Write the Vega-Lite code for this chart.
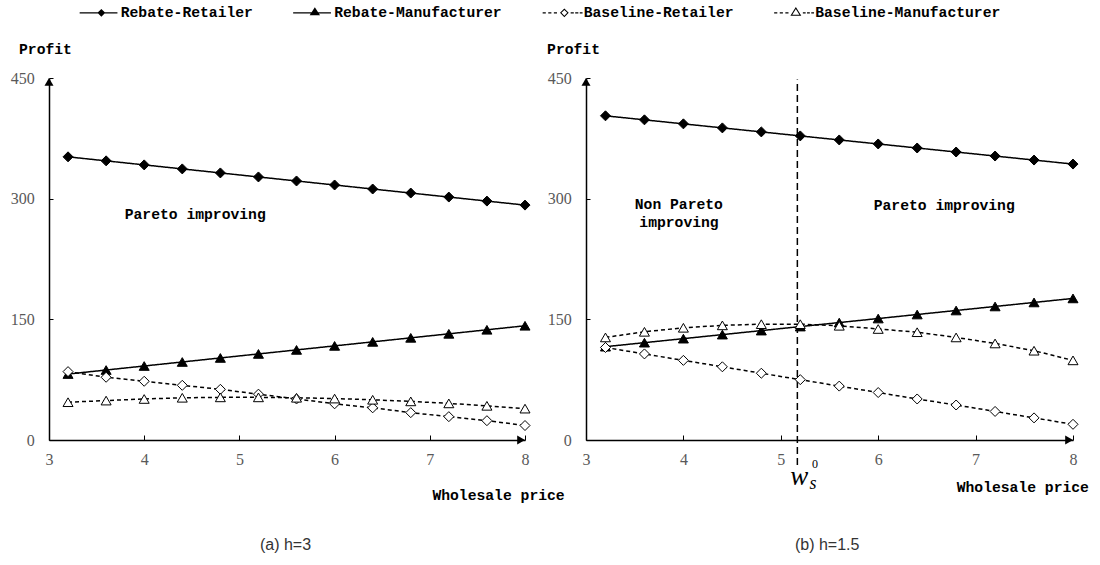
{
  "$schema": "https://vega.github.io/schema/vega-lite/v6.json",
  "background": "white",
  "padding": {"left": 10, "top": 5, "right": 5, "bottom": 5},
  "bounds": "flush",
  "spacing": 61,
  "config": {
    "view": {"stroke": null},
    "axis": {
      "grid": false,
      "domain": true,
      "domainColor": "black",
      "domainWidth": 1.5,
      "ticks": true,
      "tickColor": "black",
      "tickWidth": 1,
      "labelFont": "Liberation Serif",
      "labelFontSize": 16,
      "labelColor": "#595959",
      "labelOverlap": false
    }
  },
  "resolve": {
    "scale": {"x": "independent", "y": "independent", "shape": "independent", "fill": "independent", "strokeDash": "independent", "strokeWidth": "independent"},
    "legend": {"shape": "independent", "fill": "independent"}
  },
  "datasets": {
    "h3": [
      {"w": 3.2, "series": "Rebate-Retailer", "profit": 352},
      {"w": 3.6, "series": "Rebate-Retailer", "profit": 347},
      {"w": 4.0, "series": "Rebate-Retailer", "profit": 342},
      {"w": 4.4, "series": "Rebate-Retailer", "profit": 337},
      {"w": 4.8, "series": "Rebate-Retailer", "profit": 332},
      {"w": 5.2, "series": "Rebate-Retailer", "profit": 327},
      {"w": 5.6, "series": "Rebate-Retailer", "profit": 322},
      {"w": 6.0, "series": "Rebate-Retailer", "profit": 317},
      {"w": 6.4, "series": "Rebate-Retailer", "profit": 312},
      {"w": 6.8, "series": "Rebate-Retailer", "profit": 307},
      {"w": 7.2, "series": "Rebate-Retailer", "profit": 302},
      {"w": 7.6, "series": "Rebate-Retailer", "profit": 297},
      {"w": 8.0, "series": "Rebate-Retailer", "profit": 292},
      {"w": 3.2, "series": "Rebate-Manufacturer", "profit": 82},
      {"w": 3.6, "series": "Rebate-Manufacturer", "profit": 87},
      {"w": 4.0, "series": "Rebate-Manufacturer", "profit": 92},
      {"w": 4.4, "series": "Rebate-Manufacturer", "profit": 97},
      {"w": 4.8, "series": "Rebate-Manufacturer", "profit": 102},
      {"w": 5.2, "series": "Rebate-Manufacturer", "profit": 107},
      {"w": 5.6, "series": "Rebate-Manufacturer", "profit": 112},
      {"w": 6.0, "series": "Rebate-Manufacturer", "profit": 117},
      {"w": 6.4, "series": "Rebate-Manufacturer", "profit": 122},
      {"w": 6.8, "series": "Rebate-Manufacturer", "profit": 127},
      {"w": 7.2, "series": "Rebate-Manufacturer", "profit": 132},
      {"w": 7.6, "series": "Rebate-Manufacturer", "profit": 137},
      {"w": 8.0, "series": "Rebate-Manufacturer", "profit": 142},
      {"w": 3.2, "series": "Baseline-Retailer", "profit": 85},
      {"w": 3.6, "series": "Baseline-Retailer", "profit": 78},
      {"w": 4.0, "series": "Baseline-Retailer", "profit": 73},
      {"w": 4.4, "series": "Baseline-Retailer", "profit": 68},
      {"w": 4.8, "series": "Baseline-Retailer", "profit": 63},
      {"w": 5.2, "series": "Baseline-Retailer", "profit": 57},
      {"w": 5.6, "series": "Baseline-Retailer", "profit": 51},
      {"w": 6.0, "series": "Baseline-Retailer", "profit": 45},
      {"w": 6.4, "series": "Baseline-Retailer", "profit": 40},
      {"w": 6.8, "series": "Baseline-Retailer", "profit": 34},
      {"w": 7.2, "series": "Baseline-Retailer", "profit": 29},
      {"w": 7.6, "series": "Baseline-Retailer", "profit": 24},
      {"w": 8.0, "series": "Baseline-Retailer", "profit": 18},
      {"w": 3.2, "series": "Baseline-Manufacturer", "profit": 47},
      {"w": 3.6, "series": "Baseline-Manufacturer", "profit": 49},
      {"w": 4.0, "series": "Baseline-Manufacturer", "profit": 51},
      {"w": 4.4, "series": "Baseline-Manufacturer", "profit": 52.5},
      {"w": 4.8, "series": "Baseline-Manufacturer", "profit": 53},
      {"w": 5.2, "series": "Baseline-Manufacturer", "profit": 53},
      {"w": 5.6, "series": "Baseline-Manufacturer", "profit": 52.5},
      {"w": 6.0, "series": "Baseline-Manufacturer", "profit": 51.5},
      {"w": 6.4, "series": "Baseline-Manufacturer", "profit": 50},
      {"w": 6.8, "series": "Baseline-Manufacturer", "profit": 48},
      {"w": 7.2, "series": "Baseline-Manufacturer", "profit": 45.5},
      {"w": 7.6, "series": "Baseline-Manufacturer", "profit": 42.5},
      {"w": 8.0, "series": "Baseline-Manufacturer", "profit": 39}
    ],
    "h15": [
      {"w": 3.2, "series": "Rebate-Retailer", "profit": 403},
      {"w": 3.6, "series": "Rebate-Retailer", "profit": 398},
      {"w": 4.0, "series": "Rebate-Retailer", "profit": 393},
      {"w": 4.4, "series": "Rebate-Retailer", "profit": 388},
      {"w": 4.8, "series": "Rebate-Retailer", "profit": 383},
      {"w": 5.2, "series": "Rebate-Retailer", "profit": 378},
      {"w": 5.6, "series": "Rebate-Retailer", "profit": 373},
      {"w": 6.0, "series": "Rebate-Retailer", "profit": 368},
      {"w": 6.4, "series": "Rebate-Retailer", "profit": 363},
      {"w": 6.8, "series": "Rebate-Retailer", "profit": 358},
      {"w": 7.2, "series": "Rebate-Retailer", "profit": 353},
      {"w": 7.6, "series": "Rebate-Retailer", "profit": 348},
      {"w": 8.0, "series": "Rebate-Retailer", "profit": 343},
      {"w": 3.2, "series": "Rebate-Manufacturer", "profit": 116},
      {"w": 3.6, "series": "Rebate-Manufacturer", "profit": 121},
      {"w": 4.0, "series": "Rebate-Manufacturer", "profit": 126},
      {"w": 4.4, "series": "Rebate-Manufacturer", "profit": 131},
      {"w": 4.8, "series": "Rebate-Manufacturer", "profit": 136},
      {"w": 5.2, "series": "Rebate-Manufacturer", "profit": 141},
      {"w": 5.6, "series": "Rebate-Manufacturer", "profit": 146},
      {"w": 6.0, "series": "Rebate-Manufacturer", "profit": 151},
      {"w": 6.4, "series": "Rebate-Manufacturer", "profit": 156},
      {"w": 6.8, "series": "Rebate-Manufacturer", "profit": 161},
      {"w": 7.2, "series": "Rebate-Manufacturer", "profit": 166},
      {"w": 7.6, "series": "Rebate-Manufacturer", "profit": 171},
      {"w": 8.0, "series": "Rebate-Manufacturer", "profit": 176},
      {"w": 3.2, "series": "Baseline-Retailer", "profit": 115},
      {"w": 3.6, "series": "Baseline-Retailer", "profit": 107},
      {"w": 4.0, "series": "Baseline-Retailer", "profit": 99},
      {"w": 4.4, "series": "Baseline-Retailer", "profit": 91},
      {"w": 4.8, "series": "Baseline-Retailer", "profit": 83},
      {"w": 5.2, "series": "Baseline-Retailer", "profit": 75},
      {"w": 5.6, "series": "Baseline-Retailer", "profit": 67},
      {"w": 6.0, "series": "Baseline-Retailer", "profit": 59},
      {"w": 6.4, "series": "Baseline-Retailer", "profit": 51},
      {"w": 6.8, "series": "Baseline-Retailer", "profit": 43.5},
      {"w": 7.2, "series": "Baseline-Retailer", "profit": 35.5},
      {"w": 7.6, "series": "Baseline-Retailer", "profit": 27.5},
      {"w": 8.0, "series": "Baseline-Retailer", "profit": 19.5},
      {"w": 3.2, "series": "Baseline-Manufacturer", "profit": 127.5},
      {"w": 3.6, "series": "Baseline-Manufacturer", "profit": 134.5},
      {"w": 4.0, "series": "Baseline-Manufacturer", "profit": 139.5},
      {"w": 4.4, "series": "Baseline-Manufacturer", "profit": 142.5},
      {"w": 4.8, "series": "Baseline-Manufacturer", "profit": 144},
      {"w": 5.2, "series": "Baseline-Manufacturer", "profit": 144},
      {"w": 5.6, "series": "Baseline-Manufacturer", "profit": 142},
      {"w": 6.0, "series": "Baseline-Manufacturer", "profit": 138},
      {"w": 6.4, "series": "Baseline-Manufacturer", "profit": 134},
      {"w": 6.8, "series": "Baseline-Manufacturer", "profit": 127.5},
      {"w": 7.2, "series": "Baseline-Manufacturer", "profit": 120},
      {"w": 7.6, "series": "Baseline-Manufacturer", "profit": 111},
      {"w": 8.0, "series": "Baseline-Manufacturer", "profit": 99}
    ]
  },
  "hconcat": [
    {
      "width": 476,
      "height": 362,
      "layer": [
        {
          "data": {"name": "h3"},
          "mark": {"type": "line", "color": "black"},
          "encoding": {
            "x": {"field": "w", "type": "quantitative", "scale": {"domain": [3, 8], "nice": false, "zero": false},
                  "axis": {"values": [3, 4, 5, 6, 7, 8], "format": "d", "tickSize": -5, "labelPadding": 16, "labelFlush": false, "labelBaseline": "top", "title": null}},
            "y": {"field": "profit", "type": "quantitative", "scale": {"domain": [0, 450], "nice": false},
                  "axis": {"values": [0, 150, 300, 450], "format": "d", "tickSize": -4, "labelPadding": 18.7, "title": null}},
            "strokeDash": {"field": "series", "type": "nominal", "legend": null,
              "scale": {"domain": ["Rebate-Retailer", "Rebate-Manufacturer", "Baseline-Retailer", "Baseline-Manufacturer"], "range": [[1, 0], [1, 0], [4, 3], [4, 3]]}},
            "strokeWidth": {"field": "series", "type": "nominal", "legend": null,
              "scale": {"domain": ["Rebate-Retailer", "Rebate-Manufacturer", "Baseline-Retailer", "Baseline-Manufacturer"], "range": [1.5, 1.5, 1.2, 1.2]}}
          }
        },
        {
          "data": {"name": "h3"},
          "mark": {"type": "point", "filled": true, "stroke": "black", "strokeWidth": 1, "size": 100, "opacity": 1},
          "encoding": {
            "x": {"field": "w", "type": "quantitative"},
            "y": {"field": "profit", "type": "quantitative"},
            "shape": {"field": "series", "type": "nominal", "legend": null,
              "scale": {"domain": ["Rebate-Retailer", "Rebate-Manufacturer", "Baseline-Retailer", "Baseline-Manufacturer"], "range": ["diamond", "triangle-up", "diamond", "triangle-up"]}},
            "fill": {"field": "series", "type": "nominal", "legend": null,
              "scale": {"domain": ["Rebate-Retailer", "Rebate-Manufacturer", "Baseline-Retailer", "Baseline-Manufacturer"], "range": ["black", "black", "white", "white"]}}
          }
        },
        {
          "data": {"name": "h3"},
          "transform": [{"filter": "false"}],
          "mark": {"type": "point", "filled": true, "color": "black", "size": 196, "opacity": 1},
          "encoding": {
            "shape": {"field": "series", "type": "nominal",
              "scale": {"domain": ["Rebate-Retailer", "Rebate-Manufacturer", "Baseline-Retailer", "Baseline-Manufacturer"],
                "range": [
                  "M-3.1,-0.1H2.3V0.1H-3.1Z M0,-0.56L0.56,0L0,0.56L-0.56,0Z",
                  "M-3.1,-0.1H2.3V0.1H-3.1Z M0,-0.8L0.74,0.36L-0.74,0.36Z",
                  "M-3.1,-0.08H-2.65V0.08H-3.1Z M-2.3,-0.08H-1.85V0.08H-2.3Z M-1.5,-0.08H-1.05V0.08H-1.5Z M0.9,-0.08H1.35V0.08H0.9Z M1.55,-0.08H2.0V0.08H1.55Z M2.2,-0.08H2.6V0.08H2.2Z M0,-0.62L0.62,0L0,0.62L-0.62,0Z M0,-0.41L-0.41,0L0,0.41L0.41,0Z",
                  "M-3.1,-0.08H-2.65V0.08H-3.1Z M-2.3,-0.08H-1.85V0.08H-2.3Z M-1.5,-0.08H-1.05V0.08H-1.5Z M1.0,-0.08H1.4V0.08H1.0Z M1.6,-0.08H2.0V0.08H1.6Z M2.2,-0.08H2.6V0.08H2.2Z M0,-0.84L0.78,0.42L-0.78,0.42Z M0,-0.555L-0.51,0.27L0.51,0.27Z"
                ]},
              "legend": {"title": null, "orient": "none", "legendX": 45, "legendY": -73, "direction": "horizontal", "padding": 0,
                "columnPadding": 39.5, "labelOffset": 12, "symbolSize": 196, "symbolFillColor": "black", "symbolStrokeWidth": 0,
                "labelFont": "Liberation Mono", "labelFontWeight": "bold", "labelFontSize": 14.7, "labelColor": "black", "labelLimit": 0}}
          }
        },
        {
          "data": {"values": [{}]},
          "mark": {"type": "point", "shape": "triangle-up", "filled": true, "color": "black", "size": 81, "opacity": 1},
          "encoding": {"x": {"datum": 3, "type": "quantitative"}, "y": {"datum": 445.2, "type": "quantitative"}}
        },
        {
          "data": {"values": [{}]},
          "mark": {"type": "point", "shape": "triangle-right", "filled": true, "color": "black", "size": 81, "opacity": 1},
          "encoding": {"x": {"datum": 7.959, "type": "quantitative"}, "y": {"datum": 0, "type": "quantitative"}}
        },
        {
          "data": {"values": [{}]},
          "mark": {"type": "text", "text": "Profit", "font": "Liberation Mono", "fontWeight": "bold", "fontSize": 14.7, "color": "black", "align": "center", "baseline": "middle"},
          "encoding": {"x": {"datum": 2.963, "type": "quantitative"}, "y": {"datum": 485.2, "type": "quantitative"}}
        },
        {
          "data": {"values": [{}]},
          "mark": {"type": "text", "text": "Wholesale price", "font": "Liberation Mono", "fontWeight": "bold", "fontSize": 14.7, "color": "black", "align": "center", "baseline": "middle"},
          "encoding": {"x": {"datum": 7.722, "type": "quantitative"}, "y": {"datum": -69.6, "type": "quantitative"}}
        },
        {
          "data": {"values": [{}]},
          "mark": {"type": "text", "text": "Pareto improving", "font": "Liberation Mono", "fontWeight": "bold", "fontSize": 14.7, "color": "black", "align": "center", "baseline": "middle"},
          "encoding": {"x": {"datum": 4.536, "type": "quantitative"}, "y": {"datum": 280.1, "type": "quantitative"}}
        },
        {
          "data": {"values": [{}]},
          "mark": {"type": "text", "text": "(a) h=3", "font": "Liberation Sans", "fontSize": 16, "color": "#333333", "align": "center", "baseline": "middle"},
          "encoding": {"x": {"datum": 5.484, "type": "quantitative"}, "y": {"datum": -130.2, "type": "quantitative"}}
        }
      ],
      "resolve": {"scale": {"shape": "independent", "fill": "independent"}, "legend": {"shape": "independent", "fill": "independent"}}
    },
    {
      "width": 487,
      "height": 362,
      "layer": [
        {
          "data": {"values": [{}]},
          "mark": {"type": "rule", "color": "black", "strokeWidth": 1.5, "strokeDash": [7, 4]},
          "encoding": {"x": {"datum": 5.17, "type": "quantitative"}, "y": {"datum": -31, "type": "quantitative"}, "y2": {"datum": 448}}
        },
        {
          "data": {"name": "h15"},
          "mark": {"type": "line", "color": "black"},
          "encoding": {
            "x": {"field": "w", "type": "quantitative", "scale": {"domain": [3, 8], "nice": false, "zero": false},
                  "axis": {"values": [3, 4, 5, 6, 7, 8], "format": "d", "tickSize": -5, "labelPadding": 16, "labelFlush": false, "labelBaseline": "top", "title": null}},
            "y": {"field": "profit", "type": "quantitative", "scale": {"domain": [0, 450], "nice": false},
                  "axis": {"values": [0, 150, 300, 450], "format": "d", "tickSize": -4, "labelPadding": 18.7, "title": null}},
            "strokeDash": {"field": "series", "type": "nominal", "legend": null,
              "scale": {"domain": ["Rebate-Retailer", "Rebate-Manufacturer", "Baseline-Retailer", "Baseline-Manufacturer"], "range": [[1, 0], [1, 0], [4, 3], [4, 3]]}},
            "strokeWidth": {"field": "series", "type": "nominal", "legend": null,
              "scale": {"domain": ["Rebate-Retailer", "Rebate-Manufacturer", "Baseline-Retailer", "Baseline-Manufacturer"], "range": [1.5, 1.5, 1.2, 1.2]}}
          }
        },
        {
          "data": {"name": "h15"},
          "mark": {"type": "point", "filled": true, "stroke": "black", "strokeWidth": 1, "size": 100, "opacity": 1},
          "encoding": {
            "x": {"field": "w", "type": "quantitative"},
            "y": {"field": "profit", "type": "quantitative"},
            "shape": {"field": "series", "type": "nominal", "legend": null,
              "scale": {"domain": ["Rebate-Retailer", "Rebate-Manufacturer", "Baseline-Retailer", "Baseline-Manufacturer"], "range": ["diamond", "triangle-up", "diamond", "triangle-up"]}},
            "fill": {"field": "series", "type": "nominal", "legend": null,
              "scale": {"domain": ["Rebate-Retailer", "Rebate-Manufacturer", "Baseline-Retailer", "Baseline-Manufacturer"], "range": ["black", "black", "white", "white"]}}
          }
        },
        {
          "data": {"values": [{}]},
          "mark": {"type": "point", "shape": "triangle-up", "filled": true, "color": "black", "size": 81, "opacity": 1},
          "encoding": {"x": {"datum": 3, "type": "quantitative"}, "y": {"datum": 445.2, "type": "quantitative"}}
        },
        {
          "data": {"values": [{}]},
          "mark": {"type": "point", "shape": "triangle-right", "filled": true, "color": "black", "size": 81, "opacity": 1},
          "encoding": {"x": {"datum": 7.96, "type": "quantitative"}, "y": {"datum": 0, "type": "quantitative"}}
        },
        {
          "data": {"values": [{}]},
          "mark": {"type": "text", "text": "Profit", "font": "Liberation Mono", "fontWeight": "bold", "fontSize": 14.7, "color": "black", "align": "center", "baseline": "middle"},
          "encoding": {"x": {"datum": 2.872, "type": "quantitative"}, "y": {"datum": 485.2, "type": "quantitative"}}
        },
        {
          "data": {"values": [{}]},
          "mark": {"type": "text", "text": "Wholesale price", "font": "Liberation Mono", "fontWeight": "bold", "fontSize": 14.7, "color": "black", "align": "center", "baseline": "middle"},
          "encoding": {"x": {"datum": 7.485, "type": "quantitative"}, "y": {"datum": -59.7, "type": "quantitative"}}
        },
        {
          "data": {"values": [{}]},
          "mark": {"type": "text", "text": "Non Pareto", "font": "Liberation Mono", "fontWeight": "bold", "fontSize": 14.7, "color": "black", "align": "center", "baseline": "middle"},
          "encoding": {"x": {"datum": 3.953, "type": "quantitative"}, "y": {"datum": 292.5, "type": "quantitative"}}
        },
        {
          "data": {"values": [{}]},
          "mark": {"type": "text", "text": "improving", "font": "Liberation Mono", "fontWeight": "bold", "fontSize": 14.7, "color": "black", "align": "center", "baseline": "middle"},
          "encoding": {"x": {"datum": 3.955, "type": "quantitative"}, "y": {"datum": 269.8, "type": "quantitative"}}
        },
        {
          "data": {"values": [{}]},
          "mark": {"type": "text", "text": "Pareto improving", "font": "Liberation Mono", "fontWeight": "bold", "fontSize": 14.7, "color": "black", "align": "center", "baseline": "middle"},
          "encoding": {"x": {"datum": 6.678, "type": "quantitative"}, "y": {"datum": 290.5, "type": "quantitative"}}
        },
        {
          "data": {"values": [{}]},
          "mark": {"type": "text", "text": "w", "font": "Liberation Serif", "fontStyle": "italic", "fontSize": 27, "color": "black", "align": "center", "baseline": "alphabetic"},
          "encoding": {"x": {"datum": 5.19, "type": "quantitative"}, "y": {"datum": -55.6, "type": "quantitative"}}
        },
        {
          "data": {"values": [{}]},
          "mark": {"type": "text", "text": "s", "font": "Liberation Serif", "fontStyle": "italic", "fontSize": 18, "color": "black", "align": "center", "baseline": "alphabetic"},
          "encoding": {"x": {"datum": 5.33, "type": "quantitative"}, "y": {"datum": -60.9, "type": "quantitative"}}
        },
        {
          "data": {"values": [{}]},
          "mark": {"type": "text", "text": "0", "font": "Liberation Serif", "fontSize": 12, "color": "black", "align": "center", "baseline": "alphabetic"},
          "encoding": {"x": {"datum": 5.35, "type": "quantitative"}, "y": {"datum": -35.4, "type": "quantitative"}}
        },
        {
          "data": {"values": [{}]},
          "mark": {"type": "text", "text": "(b) h=1.5", "font": "Liberation Sans", "fontSize": 16, "color": "#333333", "align": "center", "baseline": "middle"},
          "encoding": {"x": {"datum": 5.476, "type": "quantitative"}, "y": {"datum": -130.2, "type": "quantitative"}}
        }
      ]
    }
  ]
}
